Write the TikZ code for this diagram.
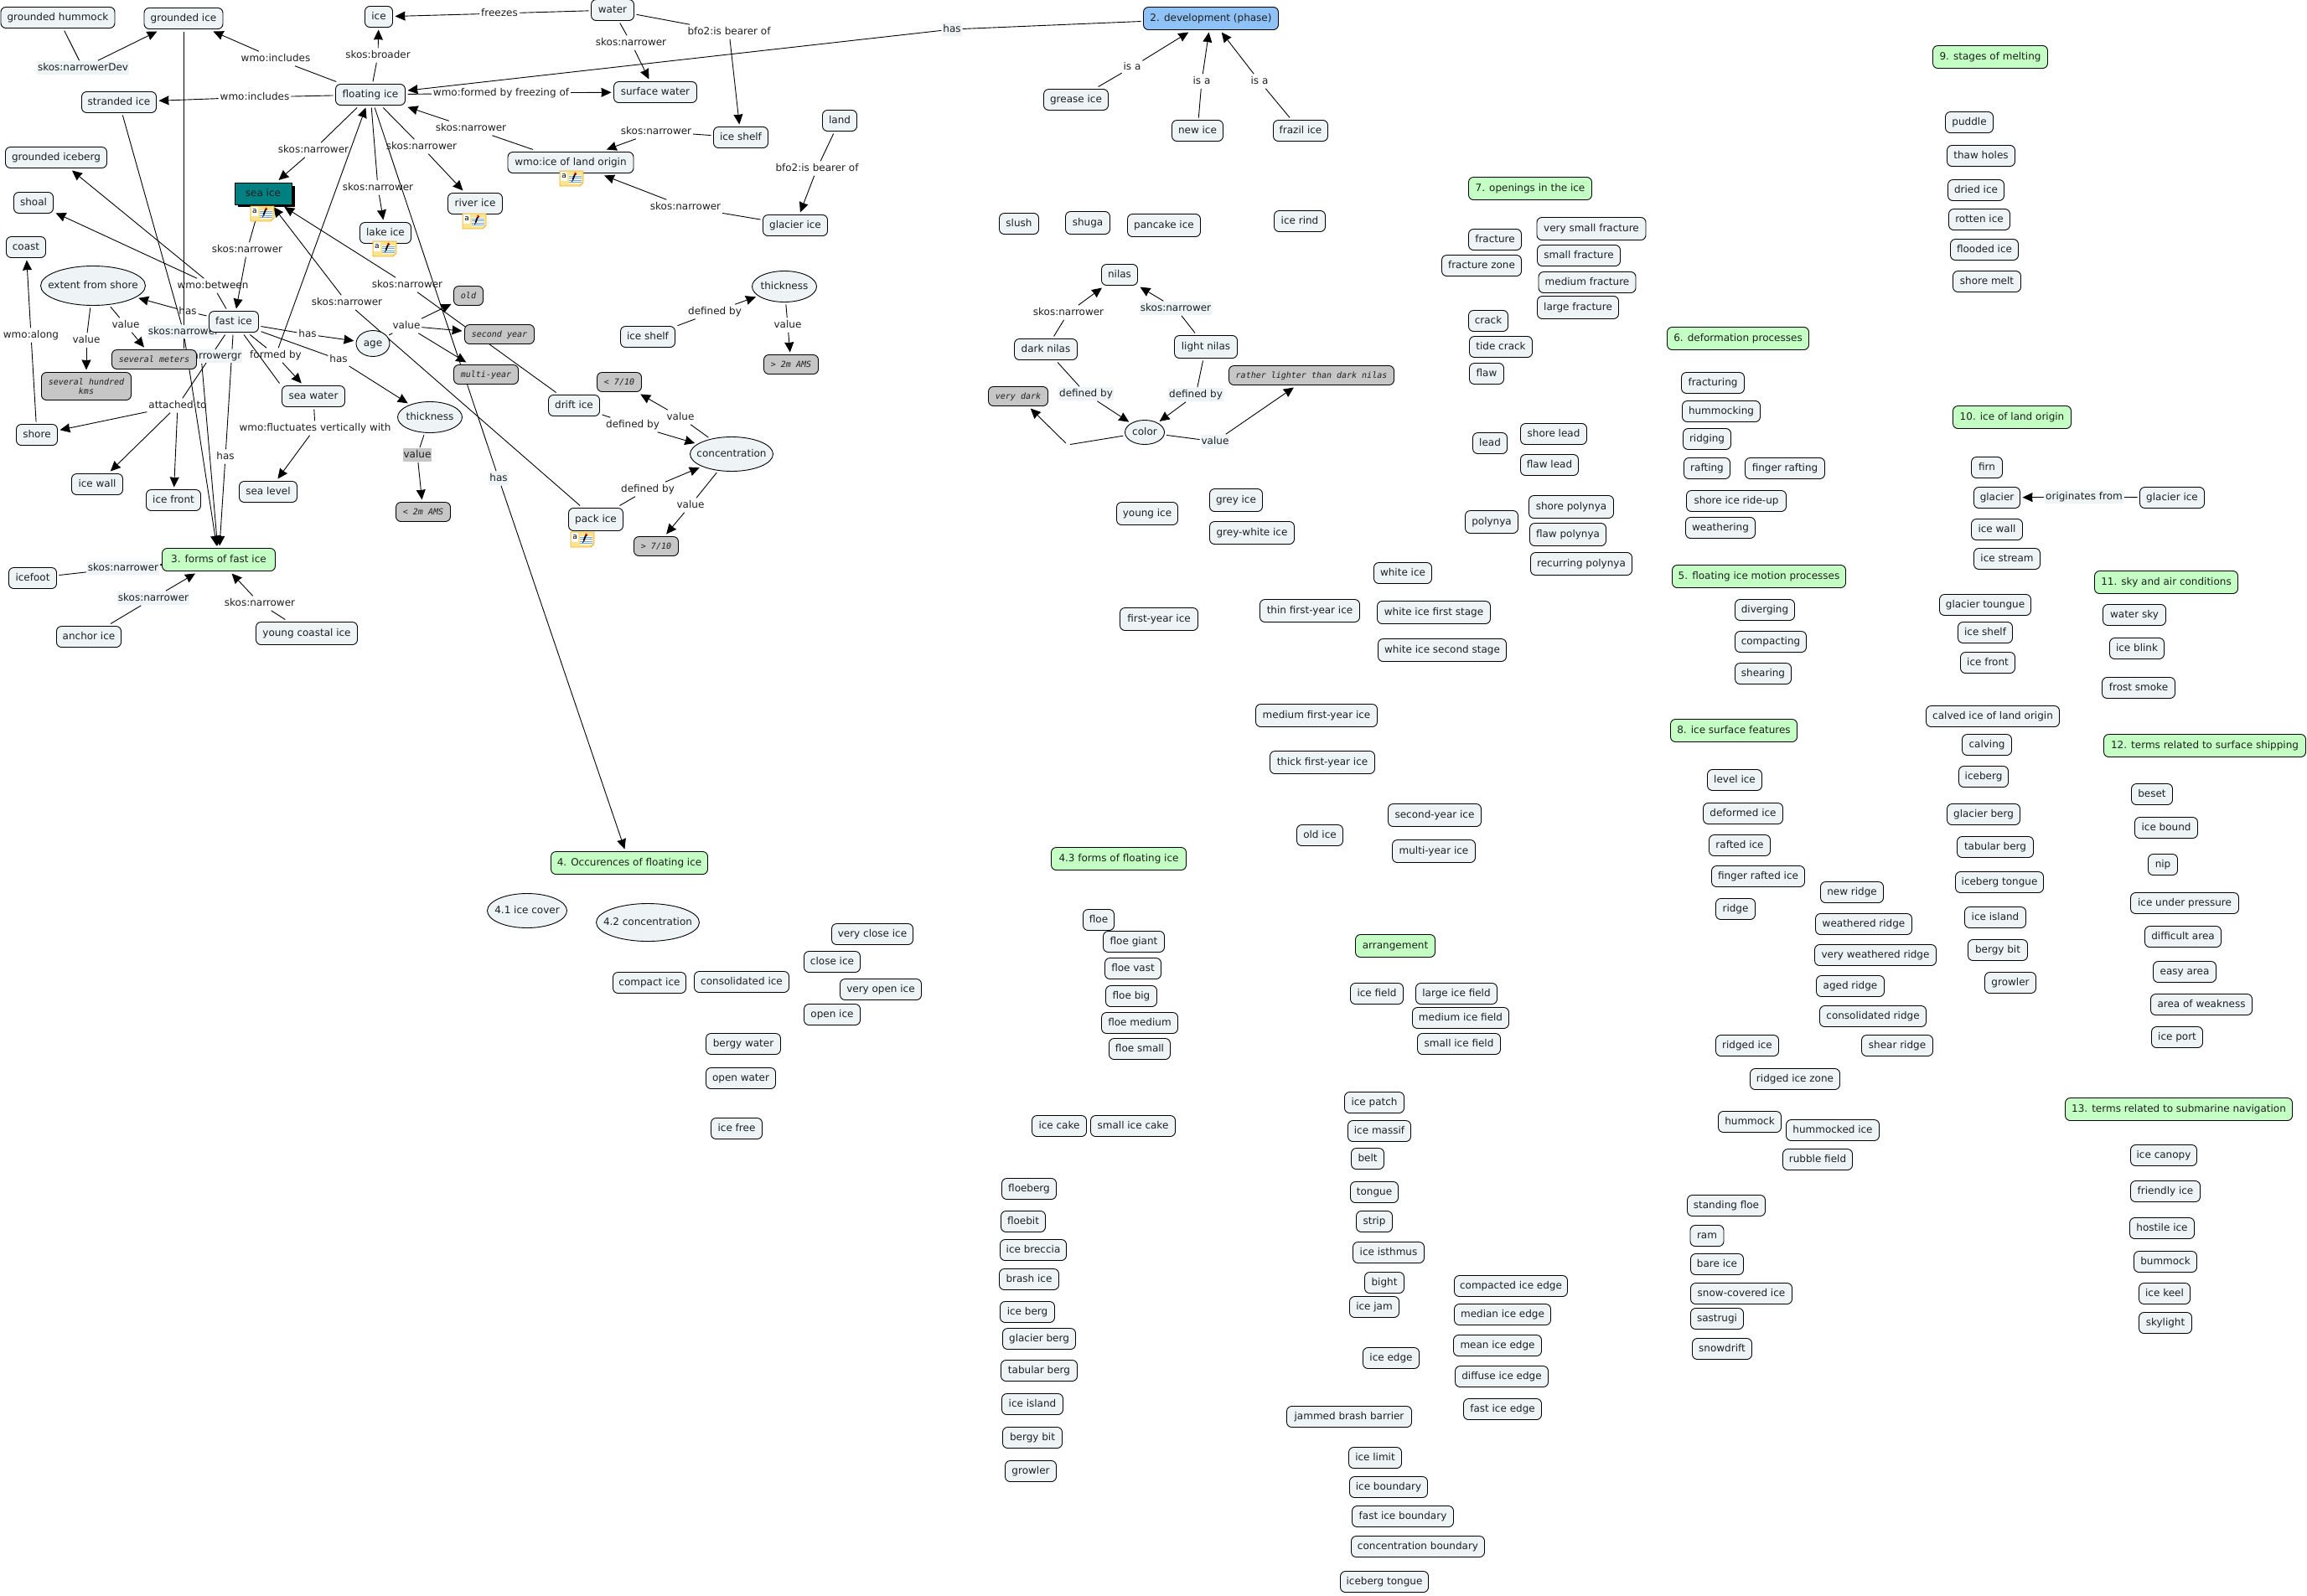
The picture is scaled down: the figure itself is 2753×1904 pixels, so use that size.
\documentclass[tikz,border=0pt]{standalone}
\usepackage{fontspec}
\setmainfont{DejaVu Sans}
\newfontfamily\greyfont{DejaVu Sans Mono}
\usetikzlibrary{arrows.meta,shapes.geometric,calc}
\pgfdeclarelayer{back}
\pgfdeclarelayer{mid}
\pgfsetlayers{back,mid,main}
\definecolor{cfill}{HTML}{EEF4F6}
\definecolor{cgreen}{HTML}{C4FFC4}
\definecolor{cblue}{HTML}{8FC3F7}
\definecolor{cgrey}{HTML}{C6C6C6}
\definecolor{cteal}{HTML}{008080}
\definecolor{ctext}{HTML}{1E1E1E}
\definecolor{cnote}{HTML}{FFE48C}
\definecolor{cnoteb}{HTML}{E8B030}
\definecolor{cstripe}{HTML}{6FA8DC}
\tikzset{
  basenode/.style={draw=black,line width=0.9pt,inner sep=0pt,outer sep=3pt,font=\fontsize{12}{14}\selectfont,text=ctext,text height=9pt,text depth=2.5pt,minimum height=25pt},
  concept/.style={basenode,rectangle,rounded corners=6pt,fill=cfill},
  topic/.style={concept,fill=cgreen,minimum height=27pt},
  phase/.style={concept,fill=cblue,minimum height=27pt},
  oval/.style={basenode,ellipse,fill=cfill,inner xsep=-40pt,inner ysep=-8pt},
  val/.style={concept,fill=cgrey,font=\fontsize{10}{11}\selectfont\greyfont\itshape,minimum height=23pt},
  tall/.style={minimum height=27pt},
  lab/.style={inner xsep=1pt,inner ysep=2pt,outer xsep=1pt,outer ysep=1pt,font=\fontsize{12}{14}\selectfont,text=ctext,text height=9pt,text depth=2.5pt},
  labl/.style={lab,fill=cfill},
  labg/.style={lab,fill=cgrey},
  conn/.style={line width=0.9pt,draw=black},
  head/.style={conn,-{Stealth[inset=0.6pt,length=12pt,width=11pt]}},
}
\newcommand\cn[5][]{\node[concept,minimum width=#4pt,#1] (#2) at (#3) {#5};}
\newcommand\tn[4]{\node[topic,minimum width=#3pt] (#1) at (#2) {#4};}
\newcommand\vn[4]{\node[val,minimum width=#3pt] (#1) at (#2) {#4};}
\newcommand\ov[5]{\node[oval,minimum width=#3pt,minimum height=#4pt] (#1) at (#2) {#5};}
\newcommand\lb[4][lab]{\node[#1] (#2) at (#3) {#4};}
\newcommand\lnk[3]{\draw[conn] (#1) -- (#2); \draw[head] (#2) -- (#3);}
\newcommand\stickynote[2]{%
\begin{scope}[shift={(#2)}]
 \draw[fill=cnote,draw=cnoteb,line width=0.9pt] (-14,-9) -- (14,-9) -- (14,5) -- (10,9) -- (-14,9) -- cycle;
 \fill[white] (-13,-8) rectangle (-5,3);
 \node[inner sep=0pt,text=black,font=\fontsize{9}{9}\selectfont] (#1) at (-9,-3) {a};
 \fill[white] (-3,-4) rectangle (12,6);
 \foreach \yy in {-3,-0.5,2,4.5}{\draw[cstripe,line width=0.6pt] (-3,\yy) -- (12,\yy);}
 \draw[red!80!black,line width=1.8pt] (4,-7) -- (5.5,-4.5);
 \draw[black,line width=1.8pt] (1.5,1.5) -- (4,-5);
 \draw[black,line width=0.8pt] (0.5,4) -- (1.5,1.5);
\end{scope}}
\begin{document}
\begin{tikzpicture}[x=1pt,y=-1pt]
\useasboundingbox (0,0) rectangle (2753,1904);
% --- left cluster
\cn{ghum}{69,21}{136}{grounded hummock}
\cn{gice}{219,22}{94}{grounded ice}
\cn{ice}{452,20}{33}{ice}
\cn{water}{731,12}{51}{water}
\node[phase,minimum width=161pt] (dev) at (1445,22) {2. development (phase)};
\cn{stranded}{142,122}{89}{stranded ice}
\cn{floating}{442,113}{83}{floating ice}
\cn{surface}{782,110}{99}{surface water}
\cn{shelfa}{884,164}{65}{ice shelf}
\cn{land}{1002,144}{41}{land}
\cn{grease}{1284,119}{77}{grease ice}
\cn{newice}{1429,156}{61}{new ice}
\cn{frazil}{1552,156}{65}{frazil ice}
\cn{giceberg}{67,188}{121}{grounded iceberg}
\cn{wmoland}{681,194}{150}{wmo:ice of land origin}
\cn{river}{567,243}{65}{river ice}
\fill[black] (284,222) rectangle (352,247);
\node[basenode,rectangle,fill=cteal,minimum width=68pt,minimum height=26pt,line width=0.6pt] (seaice) at (314,231) {sea ice};
\cn{shoal}{40,242}{47}{shoal}
\cn{lake}{460,278}{61}{lake ice}
\cn{coast}{31,295}{47}{coast}
\cn{glacierice}{949,269}{77}{glacier ice}
\ov{extent}{111,341}{125}{47}{extent from shore}
\vn{old}{559,353}{35}{old}
\cn{fast}{279,384}{59}{fast ice}
\vn{second}{596,399}{83}{second year}
\ov{age}{445,410}{40}{31}{age}
\vn{severalm}{184,429}{101}{several meters}
\vn{multi}{580,447}{77}{multi-year}
\node[val,minimum width=107pt,minimum height=33pt,align=center,text height=,text depth=] (severalh) at (103,461) {several hundred\\kms};
\cn{seawater}{374,473}{75}{sea water}
\ov{thicka}{513,498}{77}{37}{thickness}
\cn{shore}{44,519}{49}{shore}
\cn{drift}{685,484}{61}{drift ice}
\cn{icewalla}{116,578}{61}{ice wall}
\cn{icefronta}{207,597}{65}{ice front}
\cn{sealevel}{320,587}{69}{sea level}
\vn{ltwo}{505,611}{65}{< 2m AMS}
\tn{forms}{261,668}{135}{3. forms of fast ice}
\cn{icefoot}{39,690}{57}{icefoot}
\cn{anchor}{106,760}{77}{anchor ice}
\cn[tall]{young}{366,756}{121}{young coastal ice}
\cn[tall]{pack}{711,620}{65}{pack ice}
\ov{conc}{873,542}{99}{41}{concentration}
\vn{gtseven}{783,652}{53}{> 7/10}
\vn{ltseven}{739,456}{53}{< 7/10}
\cn{shelfb}{773,402}{65}{ice shelf}
\ov{thickb}{936,342}{77}{37}{thickness}
\vn{gttwo}{944,435}{65}{> 2m AMS}
% --- development
\cn{slush}{1216,267}{47}{slush}
\cn[tall]{shuga}{1298,266}{53}{shuga}
\cn[tall]{pancake}{1389,269}{87}{pancake ice}
\cn{icerind}{1551,264}{61}{ice rind}
\cn{nilas}{1336,328}{43}{nilas}
\cn{dark}{1248,417}{75}{dark nilas}
\cn[tall]{light}{1439,414}{75}{light nilas}
\vn{rather}{1565,448}{197}{rather lighter than dark nilas}
\vn{verydark}{1215,473}{71}{very dark}
\ov{color}{1366,516}{47}{29}{color}
\cn[tall]{youngice}{1369,613}{73}{young ice}
\cn[tall]{greyice}{1475,597}{63}{grey ice}
\cn[tall]{greywhite}{1494,636}{101}{grey-white ice}
\cn{whiteice}{1674,684}{69}{white ice}
\cn[tall]{thin}{1563,729}{119}{thin first-year ice}
\cn[tall]{whitef}{1711,731}{135}{white ice first stage}
\cn[tall]{whites}{1721,776}{153}{white ice second stage}
\cn[tall]{firsty}{1383,739}{93}{first-year ice}
\cn[tall]{medfy}{1571,854}{145}{medium first-year ice}
\cn[tall]{thickfy}{1578,910}{125}{thick first-year ice}
\cn{oldice}{1575,997}{55}{old ice}
\cn[tall]{secondy}{1712,973}{111}{second-year ice}
\cn[tall]{multiy}{1711,1016}{99}{multi-year ice}
% --- openings
\tn{open}{1826,225}{147}{7. openings in the ice}
\cn{fracture}{1784,286}{63}{fracture}
\cn{fzone}{1768,317}{95}{fracture zone}
\cn[tall]{vsfrac}{1899,273}{130}{very small fracture}
\cn{sfrac}{1884,305}{99}{small fracture}
\cn{mfrac}{1894,337}{116}{medium fracture}
\cn[tall]{lfrac}{1883,367}{97}{large fracture}
\cn{crack}{1776,383}{47}{crack}
\cn{tide}{1791,414}{75}{tide crack}
\cn{flaw}{1774,446}{41}{flaw}
\cn{lead}{1778,529}{41}{lead}
\cn{shorel}{1854,518}{79}{shore lead}
\cn{flawl}{1849,555}{69}{flaw lead}
\cn[tall]{polynya}{1780,623}{63}{polynya}
\cn[tall]{shorep}{1875,605}{101}{shore polynya}
\cn[tall]{flawp}{1871,638}{91}{flaw polynya}
\cn[tall]{recur}{1887,673}{121}{recurring polynya}
% --- melting
\tn{melt}{2375,68}{137}{9. stages of melting}
\cn{puddle}{2350,146}{57}{puddle}
\cn{thaw}{2364,186}{81}{thaw holes}
\cn{dried}{2358,227}{67}{dried ice}
\cn{rotten}{2362,262}{73}{rotten ice}
\cn{flooded}{2368,298}{81}{flooded ice}
\cn{shoremelt}{2371,336}{81}{shore melt}
% --- deformation
\tn{deform}{2074,404}{169}{6. deformation processes}
\cn{fracturing}{2044,457}{75}{fracturing}
\cn{hummocking}{2054,491}{93}{hummocking}
\cn{ridging}{2037,524}{57}{ridging}
\cn{rafting}{2037,559}{55}{rafting}
\cn{fingerr}{2130,559}{95}{finger rafting}
\cn{rideup}{2072,598}{119}{shore ice ride-up}
\cn{weathering}{2053,630}{83}{weathering}
\tn{motion}{2099,688}{207}{5. floating ice motion processes}
\cn{diverging}{2106,728}{71}{diverging}
\cn{compacting}{2113,766}{85}{compacting}
\cn{shearing}{2104,804}{67}{shearing}
\tn{surfacef}{2069,872}{151}{8. ice surface features}
\cn{level}{2070,931}{65}{level ice}
\cn{deformed}{2080,971}{95}{deformed ice}
\cn{rafted}{2076,1009}{73}{rafted ice}
\cn{fingerri}{2098,1046}{111}{finger rafted ice}
\cn{ridge}{2071,1085}{47}{ridge}
\cn{newr}{2210,1065}{75}{new ridge}
\cn{weathr}{2224,1103}{115}{weathered ridge}
\cn{vweathr}{2238,1140}{145}{very weathered ridge}
\cn{agedr}{2208,1177}{81}{aged ridge}
\cn{consr}{2235,1213}{127}{consolidated ridge}
\cn{ridgedi}{2085,1248}{75}{ridged ice}
\cn{shearr}{2264,1248}{85}{shear ridge}
\cn{ridgedz}{2142,1288}{107}{ridged ice zone}
\cn{hummock}{2088,1339}{75}{hummock}
\cn{hummocked}{2187,1349}{111}{hummocked ice}
\cn{rubble}{2169,1384}{83}{rubble field}
\cn{standing}{2060,1439}{93}{standing floe}
\cn{ram}{2037,1475}{40}{ram}
\cn{bare}{2049,1509}{63}{bare ice}
\cn{snowc}{2078,1544}{121}{snow-covered ice}
\cn{sastrugi}{2049,1574}{63}{sastrugi}
\cn{snowdrift}{2055,1610}{71}{snowdrift}
% --- land origin
\tn{landorig}{2401,498}{141}{10. ice of land origin}
\cn{firn}{2371,558}{37}{firn}
\cn{glacier}{2383,594}{55}{glacier}
\cn{glacierb}{2592,594}{77}{glacier ice}
\cn{icewallb}{2383,632}{61}{ice wall}
\cn{stream}{2395,667}{79}{ice stream}
\cn{toungue}{2369,722}{109}{glacier toungue}
\cn{shelfc}{2369,755}{65}{ice shelf}
\cn{frontb}{2372,791}{65}{ice front}
\cn{calved}{2378,855}{159}{calved ice of land origin}
\cn{calving}{2371,889}{59}{calving}
\cn{icebergb}{2367,927}{59}{iceberg}
\cn{gberga}{2367,972}{87}{glacier berg}
\cn{tberga}{2381,1011}{91}{tabular berg}
\cn{tonguea}{2386,1053}{105}{iceberg tongue}
\cn{islanda}{2381,1095}{73}{ice island}
\cn{bita}{2384,1134}{71}{bergy bit}
\cn{growlera}{2399,1173}{61}{growler}
% --- sky, shipping, submarine
\tn{sky}{2585,695}{171}{11. sky and air conditions}
\cn{watersky}{2547,734}{75}{water sky}
\cn{blink}{2550,774}{65}{ice blink}
\cn{frost}{2552,821}{87}{frost smoke}
\tn{ship}{2631,890}{241}{12. terms related to surface shipping}
\cn{beset}{2568,948}{49}{beset}
\cn{bound}{2585,988}{75}{ice bound}
\cn{nip}{2581,1032}{35}{nip}
\cn{pressure}{2607,1078}{129}{ice under pressure}
\cn{difficult}{2605,1118}{91}{difficult area}
\cn{easy}{2607,1160}{75}{easy area}
\cn{weakness}{2627,1199}{121}{area of weakness}
\cn{port}{2598,1238}{61}{ice port}
\tn{sub}{2600,1324}{271}{13. terms related to submarine navigation}
\cn{canopy}{2582,1379}{79}{ice canopy}
\cn{friendly}{2584,1422}{83}{friendly ice}
\cn{hostile}{2580,1466}{77}{hostile ice}
\cn{bummock}{2584,1506}{75}{bummock}
\cn{keel}{2583,1544}{61}{ice keel}
\cn{skylight}{2584,1579}{63}{skylight}
% --- occurrences
\tn{occ}{751,1030}{187}{4. Occurences of floating ice}
\ov{cover}{629,1087}{95}{41}{4.1 ice cover}
\ov{conctwo}{773,1101}{123}{45}{4.2 concentration}
\cn{compact}{775,1173}{87}{compact ice}
\cn{consol}{885,1172}{113}{consolidated ice}
\cn{vclose}{1041,1115}{97}{very close ice}
\cn{close}{993,1148}{67}{close ice}
\cn{vopen}{1051,1181}{97}{very open ice}
\cn{openice}{993,1211}{67}{open ice}
\cn{bergyw}{887,1246}{89}{bergy water}
\cn{openw}{884,1287}{83}{open water}
\cn{icefree}{879,1347}{61}{ice free}
% --- forms of floating ice
\tn{floatf}{1335,1025}{161}{4.3 forms of floating ice}
\cn{floe}{1311,1098}{37}{floe}
\cn{floeg}{1353,1124}{73}{floe giant}
\cn{floev}{1352,1156}{67}{floe vast}
\cn{floeb}{1350,1189}{61}{floe big}
\cn{floem}{1360,1221}{91}{floe medium}
\cn{floes}{1360,1252}{73}{floe small}
\cn{cake}{1264,1344}{65}{ice cake}
\cn{scake}{1352,1344}{101}{small ice cake}
\cn{floeberg}{1228,1419}{65}{floeberg}
\cn{floebit}{1221,1458}{53}{floebit}
\cn{breccia}{1233,1492}{79}{ice breccia}
\cn{brash}{1228,1527}{71}{brash ice}
\cn{iceberga}{1226,1566}{65}{ice berg}
\cn{gbergb}{1240,1598}{87}{glacier berg}
\cn{tbergb}{1240,1636}{91}{tabular berg}
\cn{islandb}{1232,1676}{73}{ice island}
\cn{bitb}{1232,1716}{71}{bergy bit}
\cn{growlerb}{1230,1756}{61}{growler}
\tn{arrange}{1665,1129}{95}{arrangement}
\cn{field}{1643,1186}{63}{ice field}
\cn{lfield}{1738,1186}{97}{large ice field}
\cn{mfield}{1743,1215}{115}{medium ice field}
\cn{sfield}{1741,1246}{99}{small ice field}
\cn{patch}{1640,1316}{71}{ice patch}
\cn{massif}{1646,1350}{75}{ice massif}
\cn{belt}{1632,1383}{39}{belt}
\cn{tongue}{1640,1423}{57}{tongue}
\cn{strip}{1640,1458}{43}{strip}
\cn{isthmus}{1657,1495}{85}{ice isthmus}
\cn{bight}{1652,1531}{47}{bight}
\cn{jam}{1640,1560}{59}{ice jam}
\cn{edge}{1660,1621}{67}{ice edge}
\cn{cedge}{1803,1535}{135}{compacted ice edge}
\cn{medge}{1793,1569}{115}{median ice edge}
\cn{meanedge}{1787,1606}{105}{mean ice edge}
\cn{dedge}{1792,1643}{111}{diffuse ice edge}
\cn{fedge}{1793,1682}{93}{fast ice edge}
\cn{jammed}{1610,1691}{149}{jammed brash barrier}
\cn{limit}{1641,1740}{63}{ice limit}
\cn{boundary}{1657,1775}{93}{ice boundary}
\cn{fboundary}{1674,1810}{121}{fast ice boundary}
\cn{cboundary}{1692,1846}{159}{concentration boundary}
\cn{itongue}{1652,1888}{105}{iceberg tongue}
% --- note icons
\stickynote{notea}{313,255}
\stickynote{noteb}{566,264}
\stickynote{notec}{459,297}
\stickynote{noted}{682,213}
\stickynote{notee}{695,644}
% --- linking phrases
\begin{pgfonlayer}{mid}
\lb[labl]{lDev}{99,81}{skos:narrowerDev}
\lb{lInca}{329,70}{wmo:includes}
\lb{lBroad}{451,66}{skos:broader}
\lb{lFreez}{596,16}{freezes}
\lb{lIncb}{304,116}{wmo:includes}
\lb{lFormed}{598,111}{wmo:formed by freezing of}
\lb{lNwl}{562,153}{skos:narrower}
\lb{lNsea}{374,179}{skos:narrower}
\lb{lNriv}{503,175}{skos:narrower}
\lb{lNlak}{451,224}{skos:narrower}
\lb{lNfast}{295,298}{skos:narrower}
\lb{lBetw}{254,341}{wmo:between}
\lb{lNdrift}{486,340}{skos:narrower}
\lb{lNpack}{414,361}{skos:narrower}
\lb{lHasx}{224,372}{has}
\lb{lValm}{150,388}{value}
\lb{lValh}{103,406}{value}
\lb[labl]{lNgr}{240,425}{skos:narrowergr}
\lb[labl]{lNstr}{219,396}{skos:narrower}
\lb{lHasa}{367,399}{has}
\lb{lHast}{404,429}{has}
\lb{lFby}{329,424}{formed by}
\lb{lVal}{485,389}{value}
\lb{lAtt}{212,484}{attached to}
\lb{lHasf}{269,545}{has}
\lb{lFluct}{376,511}{wmo:fluctuates vertically with}
\lb[labg]{lValt}{498,543}{value}
\lb{lAlong}{37,400}{wmo:along}
\lb[labl]{lHasocc}{595,571}{has}
\lb[labl]{lHasdev}{1136,35}{has}
\lb[labl]{lNice}{147,678}{skos:narrower}
\lb[labl]{lNanc}{183,714}{skos:narrower}
\lb{lNyou}{310,720}{skos:narrower}
\lb{lDefs}{853,372}{defined by}
\lb{lVals}{940,388}{value}
\lb{lNsw}{753,51}{skos:narrower}
\lb{lBfoa}{870,38}{bfo2:is bearer of}
\lb{lNsh}{783,157}{skos:narrower}
\lb{lNgl}{818,247}{skos:narrower}
\lb{lBfob}{975,201}{bfo2:is bearer of}
\lb{lIsa}{1351,80}{is a}
\lb{lIsb}{1434,97}{is a}
\lb{lIsc}{1503,97}{is a}
\lb{lDefd}{755,507}{defined by}
\lb{lValu}{812,498}{value}
\lb{lDefp}{773,584}{defined by}
\lb{lValo}{824,603}{value}
\lb{lNdn}{1275,373}{skos:narrower}
\lb[labl]{lNln}{1403,368}{skos:narrower}
\lb[labl]{lDefdk}{1296,470}{defined by}
\lb[labl]{lDeflt}{1427,471}{defined by}
\lb[labl]{lValc}{1450,527}{value}
\lb[labl]{lOrig}{2487,593}{originates from}
\coordinate (blankval) at (1274,531);
\end{pgfonlayer}
% --- connectors
\begin{pgfonlayer}{back}
\lnk{ghum}{lDev}{gice}
\lnk{floating}{lInca}{gice}
\lnk{floating}{lBroad}{ice}
\lnk{water}{lFreez}{ice}
\lnk{floating}{lIncb}{stranded}
\lnk{floating}{lFormed}{surface}
\lnk{wmoland}{lNwl}{floating}
\lnk{floating}{lNsea}{seaice}
\lnk{floating}{lNriv}{river}
\lnk{floating}{lNlak}{lake}
\lnk{seaice}{lNfast}{fast}
\lnk{fast}{lBetw}{giceberg}
\draw[head] (lBetw) -- (shoal);
\lnk{drift}{lNdrift}{seaice}
\lnk{pack}{lNpack}{seaice}
\lnk{fast}{lHasx}{extent}
\lnk{extent}{lValm}{severalm}
\lnk{extent}{lValh}{severalh}
\draw[conn] (gice) -- (gice |- lNgr.north);
\draw[head] (lNgr) -- (forms);
\lnk{stranded}{lNstr}{forms}
\lnk{fast}{lHasa}{age}
\lnk{fast}{lHast}{thicka}
\lnk{fast}{lFby}{seawater}
\draw[head] (lFby) -- (floating);
\draw[conn] ([xshift=12pt]fast.south) -- (seawater.north west);
\lnk{age}{lVal}{old}
\draw[head] (lVal) -- (second);
\draw[head] (lVal) -- (multi);
\lnk{fast}{lAtt}{shore}
\draw[head] (lAtt) -- (icewalla);
\draw[head] (lAtt) -- (icefronta);
\lnk{fast}{lHasf}{forms}
\lnk{seawater}{lFluct}{sealevel}
\lnk{thicka}{lValt}{ltwo}
\lnk{shore}{lAlong}{coast}
\lnk{floating}{lHasocc}{occ}
\lnk{dev}{lHasdev}{floating}
\lnk{icefoot}{lNice}{forms}
\lnk{anchor}{lNanc}{forms}
\lnk{young}{lNyou}{forms}
\lnk{shelfb}{lDefs}{thickb}
\lnk{thickb}{lVals}{gttwo}
\lnk{water}{lNsw}{surface}
\lnk{water}{lBfoa}{shelfa}
\lnk{shelfa}{lNsh}{wmoland}
\lnk{glacierice}{lNgl}{wmoland}
\lnk{land}{lBfob}{glacierice}
\lnk{grease}{lIsa}{dev}
\lnk{newice}{lIsb}{dev}
\lnk{frazil}{lIsc}{dev}
\lnk{drift}{lDefd}{conc}
\lnk{conc}{lValu}{ltseven}
\lnk{pack}{lDefp}{conc}
\lnk{conc}{lValo}{gtseven}
\lnk{dark}{lNdn}{nilas}
\lnk{light}{lNln}{nilas}
\lnk{dark}{lDefdk}{color}
\lnk{light}{lDeflt}{color}
\lnk{color}{lValc}{rather}
\draw[conn,shorten >=3pt] (color) -- (blankval);
\draw[head,shorten <=3pt] (blankval) -- (verydark);
\lnk{glacierb}{lOrig}{glacier}
\end{pgfonlayer}
\end{tikzpicture}
\end{document}
